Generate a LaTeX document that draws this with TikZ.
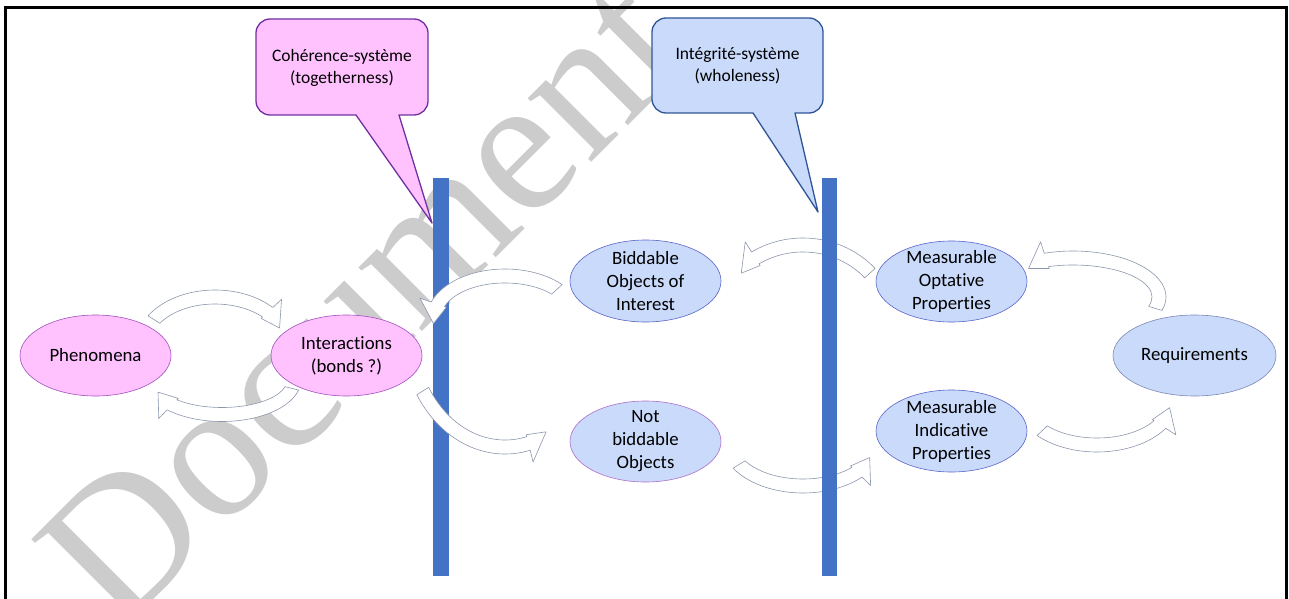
\documentclass[tikz,border=0pt]{standalone}
\usepackage{fontspec}
\setmainfont[RawFeature={-liga;-clig;-calt;-dlig}]{Carlito}
\newfontfamily\wmfont{Liberation Serif}
\usetikzlibrary{shapes.geometric}
\definecolor{pinkfill}{RGB}{255,194,255}
\definecolor{pinkline}{RGB}{112,48,160}
\definecolor{bluefill}{RGB}{201,218,250}
\definecolor{blueline}{RGB}{47,85,151}
\definecolor{barblue}{RGB}{68,114,196}
\definecolor{arrowline}{RGB}{140,150,172}
\definecolor{wmgray}{RGB}{204,204,204}
\definecolor{ellblue}{RGB}{90,100,200}
\definecolor{ellpurple}{RGB}{175,110,205}
\definecolor{ellpink}{RGB}{160,80,190}

\def\baHwi{9}\def\baHwo{19}\def\baTip{-6}
% cx cy rx ry a0 ae halfwidth headlength
\newcommand\barrow[8]{%
 \begin{scope}[shift={(#1,#2)}]
 \pgfmathsetmacro\baRxo{#3+#7}\pgfmathsetmacro\baRyo{#4+#7}%
 \pgfmathsetmacro\baRxi{#3-#7}\pgfmathsetmacro\baRyi{#4-#7}%
 \pgfmathsetmacro\baRxb{#3+\baHwo}\pgfmathsetmacro\baRyb{#4+\baHwo}%
 \pgfmathsetmacro\baRxc{#3-\baHwi}\pgfmathsetmacro\baRyc{#4-\baHwi}%
 \pgfmathsetmacro\baSg{(#6>#5)?1:-1}%
 \pgfmathsetmacro\baTx{0-(\baSg)*(#3)*sin(#6)}%
 \pgfmathsetmacro\baTy{(\baSg)*(#4)*cos(#6)}%
 \pgfmathsetmacro\baTn{veclen(\baTx,\baTy)}%
 \pgfmathsetmacro\baPx{(#3+(\baTip))*cos(#6)+(#8)*(\baTx)/(\baTn)}%
 \pgfmathsetmacro\baPy{(#4+(\baTip))*sin(#6)+(#8)*(\baTy)/(\baTn)}%
 \draw[blockarrow] (#5:{\baRxo} and {\baRyo})
   arc[start angle=#5, end angle=#6, x radius=\baRxo, y radius=\baRyo]
   -- (#6:{\baRxb} and {\baRyb}) -- (\baPx,\baPy) -- (#6:{\baRxc} and {\baRyc})
   -- (#6:{\baRxi} and {\baRyi})
   arc[start angle=#6, end angle=#5, x radius=\baRxi, y radius=\baRyi] -- cycle;
 \end{scope}}

\begin{document}
\begin{tikzpicture}[x=1pt,y=-1pt,
  blockarrow/.style={fill=white, draw=arrowline, line width=0.6pt, line join=round},
  pinkell/.style={ellipse, draw=ellpink, fill=pinkfill, line width=0.6pt, inner sep=0, minimum width=151, minimum height=81},
  blueell/.style={ellipse, draw=ellblue, fill=bluefill, line width=0.6pt, inner sep=0, minimum width=151, minimum height=81},
  lbl/.style={align=center, inner sep=0, font=\fontsize{18.8}{23}\selectfont},
  clbl/.style={align=center, inner sep=0, font=\fontsize{17.5}{21.7}\selectfont},
  barnode/.style={fill=barblue, draw=none, inner sep=0, minimum width=16, minimum height=398},
  wm/.style={anchor=base west, rotate=45, inner sep=0, text=wmgray, font=\wmfont\fontsize{196}{196}\selectfont}
]
\useasboundingbox (0,0) rectangle (1289,599);
\begin{scope}
\clip (0,0) rectangle (1289,599);
\node[wm] (wmark) at (118.7,634.7) {Document};
\end{scope}

% left bar
\node[barnode] (barL) at (441,377) {};

% arrows left
\barrow{215}{345}{72}{48}{212}{317}{7}{20}
\barrow{222}{380}{72}{34.5}{14}{134}{7}{20}
\barrow{505}{318}{71}{42}{317}{199}{7}{20}
\barrow{505}{328}{97}{119}{148}{76}{7}{20}
% arrows crossing right bar
\barrow{803}{330}{90}{85}{318}{238}{7}{20}
\barrow{803}{441}{75}{45}{148.5}{44}{7}{20}

% right bar
\node[barnode, minimum width=15] (barR) at (829.5,377) {};

% arrows right
\barrow{1073}{297}{86}{39}{17}{-108}{7}{20}
\barrow{1097}{400}{75}{45}{137}{33}{7}{20}

% ellipses
\node[pinkell] (phen) at (95.5,355.5) {};
\node[lbl] at (phen) {Phenomena};
\node[pinkell] (inter) at (346.5,355.5) {};
\node[lbl] at (inter) {Interact\kern0pt ions\\(bonds ?)};
\node[blueell, minimum height=82] (bidd) at (645.5,281) {};
\node[lbl] at (bidd) {Biddable\\Objects of\\Interest};
\node[blueell, draw=ellpurple] (notb) at (645.5,441.5) {};
\node[lbl] at (notb) {Not\\biddable\\Objects};
\node[blueell] (opt) at (951.5,281.5) {};
\node[lbl] at (opt) {Measurable\\Optat\kern0pt ive\\Propert\kern0pt ies};
\node[blueell, minimum height=82] (ind) at (951.5,431) {};
\node[lbl] at (ind) {Measurable\\Indicat\kern0pt ive\\Propert\kern0pt ies};
\node[blueell, minimum width=163, draw=arrowline!70!ellblue] (req) at (1194.5,355.5) {};
\node[lbl] at (req) {Requirements};

% callouts
\draw[fill=pinkfill, draw=pinkline, line width=1.3pt, line join=round]
  (256,33) .. controls (256,25.3) and (262.3,19) .. (270,19) -- (414,19)
  .. controls (421.7,19) and (428,25.3) .. (428,33) -- (428,101)
  .. controls (428,108.7) and (421.7,115) .. (414,115) -- (399,115) -- (432,223)
  -- (356,115) -- (270,115) .. controls (262.3,115) and (256,108.7) .. (256,101) -- cycle;
\node[clbl] (coh) at (342,68) {Cohérence-système\\(togetherness)};

\draw[fill=bluefill, draw=blueline, line width=1.3pt, line join=round]
  (652,32) .. controls (652,24.3) and (658.3,18) .. (666,18) -- (809,18)
  .. controls (816.7,18) and (823,24.3) .. (823,32) -- (823,99)
  .. controls (823,106.7) and (816.7,113) .. (809,113) -- (795,113) -- (818,212)
  -- (753,113) -- (666,113) .. controls (658.3,113) and (652,106.7) .. (652,99) -- cycle;
\node[clbl] (integ) at (737.5,66) {Intégrité-système\\(wholeness)};

% frame
\draw[line width=2.6] (5.3,620) -- (5.3,7.8) -- (1286.7,7.8) -- (1286.7,620);
\end{tikzpicture}
\end{document}
